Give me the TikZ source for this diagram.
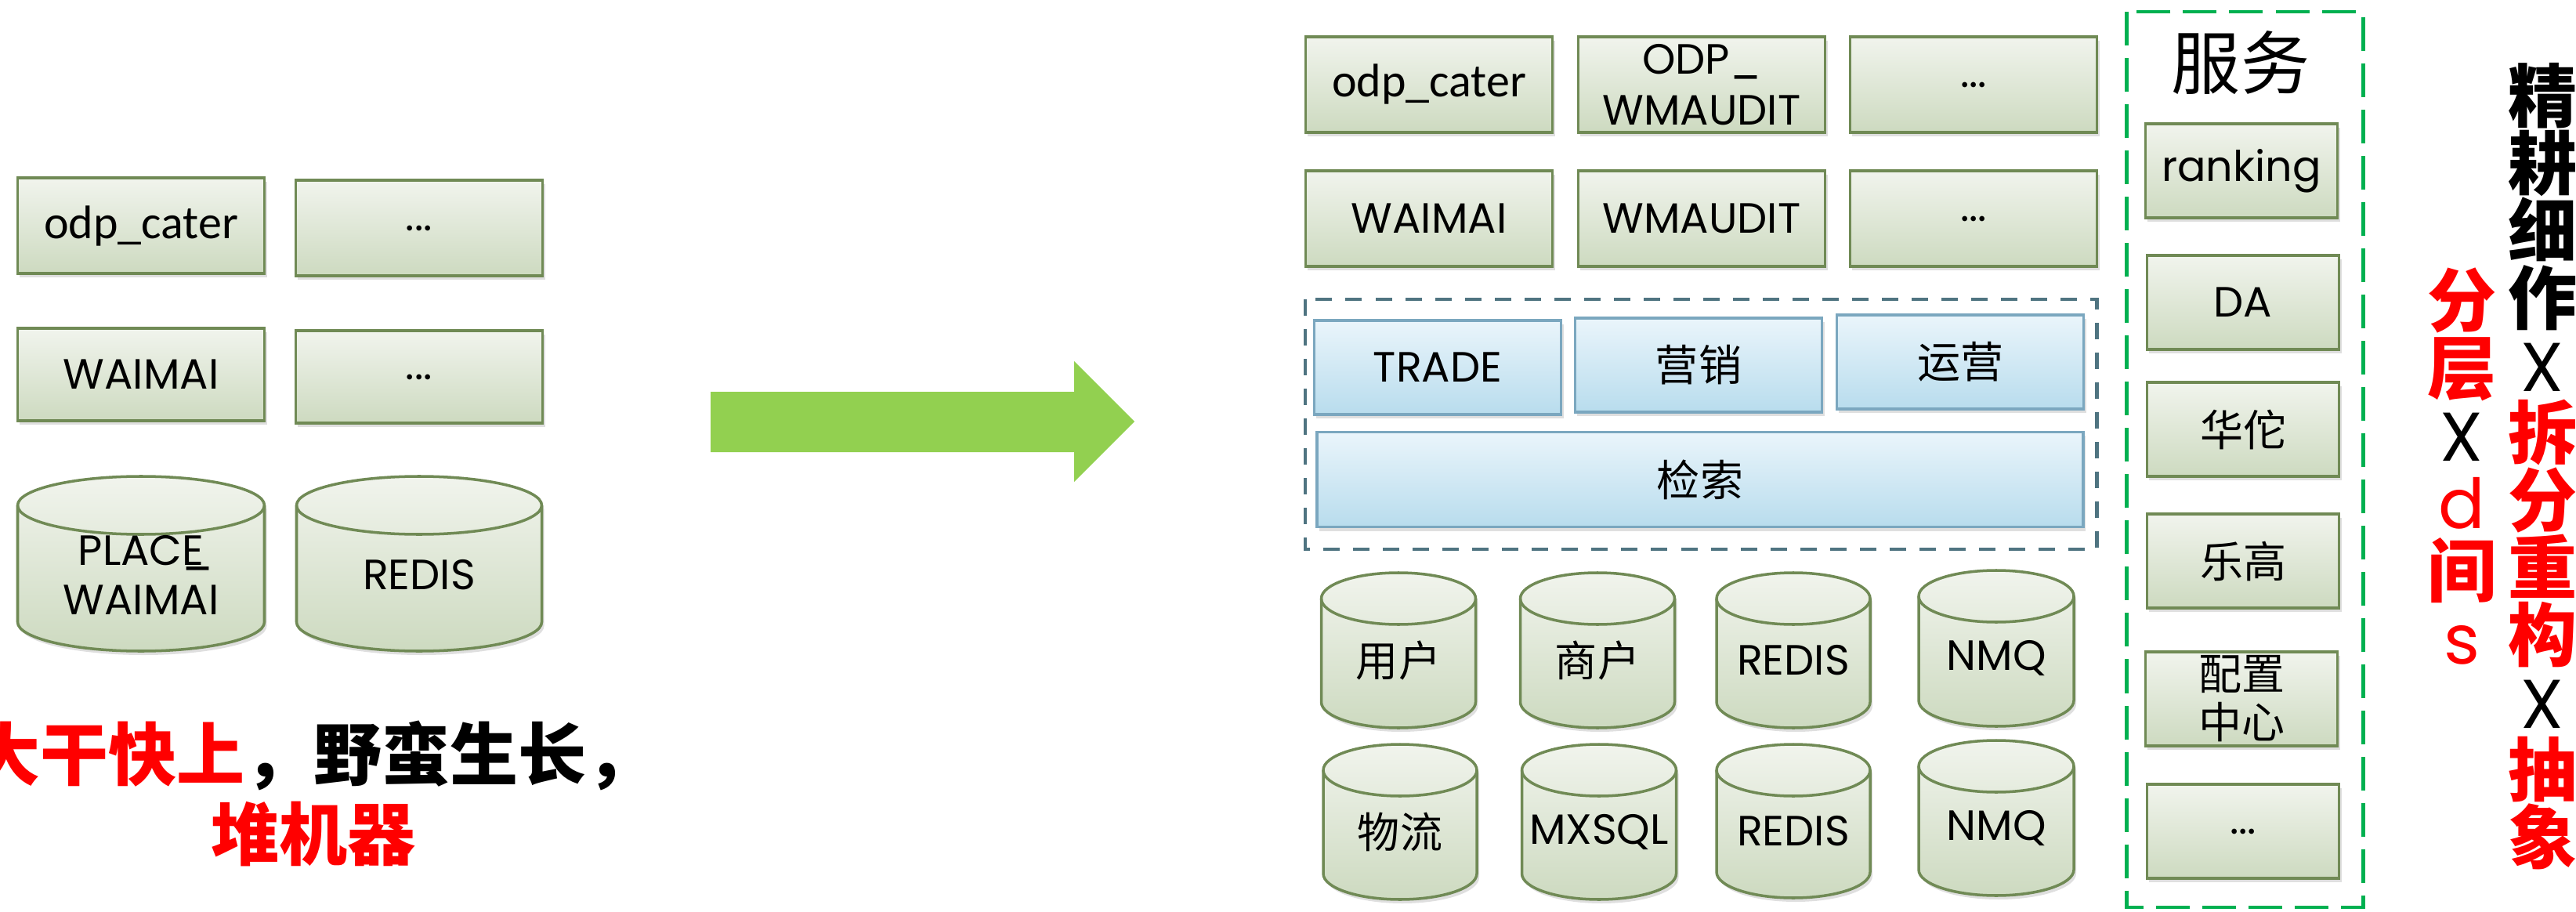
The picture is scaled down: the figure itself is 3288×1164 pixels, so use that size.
\documentclass[tikz,border=0pt]{standalone}
\usepackage{fontspec}
\setmainfont{Poppins}
\newfontfamily\cjk{Noto Sans CJK SC}
\newfontfamily\calib{Carlito}
\usetikzlibrary{shadows, positioning}

\definecolor{gtop}{RGB}{241,244,237}
\definecolor{gbot}{RGB}{205,218,192}
\definecolor{gline}{RGB}{112,138,85}
\definecolor{btop}{RGB}{234,245,251}
\definecolor{bbot}{RGB}{184,220,237}
\definecolor{bline}{RGB}{123,167,191}
\definecolor{slate}{RGB}{79,116,129}
\definecolor{svcgreen}{RGB}{0,176,80}
\definecolor{arrowgreen}{RGB}{146,208,80}

\newcommand{\hot}[1]{\textcolor{red}{#1}}
\newcommand{\crossx}{{\mdseries\rmfamily X}}

% database drum: name, centre x, top y, width, height, end radius, label
\newcommand{\dbase}[7]{%
  \pgfmathsetmacro{\dbhw}{#4/2}%
  \pgfmathsetmacro{\dbtop}{#3+#6}%
  \pgfmathsetmacro{\dbbot}{#3+#5-#6}%
  \pgfmathsetmacro{\dbmid}{#3+0.565*#5}%
  \path[db] (#2-\dbhw,\dbtop) -- (#2-\dbhw,\dbbot)
    arc[start angle=180, end angle=0, x radius=\dbhw, y radius=#6]
    -- (#2+\dbhw,\dbtop)
    arc[start angle=0, end angle=-180, x radius=\dbhw, y radius=#6] -- cycle;
  \draw[gline, line width=1pt] (#2-\dbhw,\dbtop)
    arc[start angle=180, end angle=0, x radius=\dbhw, y radius=#6];
  \node[dbtext] (#1) at (#2,\dbmid) {#7};
}

\tikzset{
  box/.style={rectangle, draw=gline, line width=1pt, top color=gtop, bottom color=gbot,
    minimum width=3.15cm, minimum height=1.22cm, inner sep=0pt, align=center,
    drop shadow={shadow xshift=0.03cm, shadow yshift=-0.05cm, opacity=0.25},
    font=\fontsize{0.54cm}{0.65cm}\selectfont},
  bluebox/.style={box, draw=bline, top color=btop, bottom color=bbot, minimum height=1.2cm},
  svcbox/.style={box, minimum width=2.45cm, minimum height=1.2cm},
  db/.style={draw=gline, line width=1pt, top color=gtop, bottom color=gbot,
    drop shadow={shadow xshift=0.03cm, shadow yshift=-0.05cm, opacity=0.25}},
  dbtext/.style={inner sep=0pt, align=center, font=\fontsize{0.54cm}{0.63cm}\selectfont},
  zh/.style={font=\cjk\fontsize{0.55cm}{0.62cm}\selectfont},
  odp/.style={font=\calib\fontsize{0.6cm}{0.7cm}\selectfont},
  bigzh/.style={font=\cjk\bfseries\fontsize{0.87cm}{1.02cm}\selectfont, align=center},
  vcol/.style={font=\cjk\bfseries\fontsize{0.88cm}{0.86cm}\selectfont, align=center, inner sep=0pt}
}

\begin{document}
\begin{tikzpicture}[x=0.01cm, y=-0.01cm]
  \useasboundingbox (0,0) rectangle (3288,1164);

  % before
  \node[box, odp] (odpL) at (180,288) {odp\_cater};
  \node[box] (moreL1) at (535,291) {...};
  \node[box, minimum height=1.18cm] (waimaiL) at (180,478) {WAIMAI};
  \node[box, minimum height=1.18cm] (moreL2) at (535,481) {...};
  \dbase{placeL}{180}{608}{315}{223}{37}{PLAC\rlap{\_}E\\WAIMAI}
  \dbase{redisL}{535}{608}{313}{223}{37}{REDIS}

  \node[bigzh] (slogan) at (400,1013) {\hot{大干快上}，野蛮生长，\\\hot{堆机器}};

  % arrow
  \fill[arrowgreen] (907,500) -- (1371,500) -- (1371,461) -- (1448,538)
    -- (1371,615) -- (1371,577) -- (907,577) -- cycle;

  % after
  \node[box, odp] (odpR) at (1824,108) {odp\_cater};
  \node[box] (odpAudit) at (2172,108) {ODP\_\\WMAUDIT};
  \node[box] (moreR1) at (2519,108) {...};
  \node[box] (waimaiR) at (1824,279) {WAIMAI};
  \node[box] (audit) at (2172,279) {WMAUDIT};
  \node[box] (moreR2) at (2519,279) {...};

  \draw[slate, line width=1.4pt, dash pattern=on 0.21cm off 0.17cm] (1666,382) rectangle (2676,701);
  \node[bluebox] (trade) at (1835,469) {TRADE};
  \node[bluebox, zh] (market) at (2168,466) {营销};
  \node[bluebox, zh] (ops) at (2502,462) {运营};
  \node[bluebox, zh, minimum width=9.77cm, minimum height=1.21cm] (search) at (2170,612) {检索};

  \dbase{user}{1785}{731}{197}{198}{33}{\cjk 用户}
  \dbase{shop}{2039}{731}{197}{198}{33}{\cjk 商户}
  \dbase{redisA}{2289}{731}{196}{198}{33}{REDIS}
  \dbase{nmqA}{2548}{728}{198}{199}{33}{NMQ}
  \dbase{logi}{1787}{950}{196}{198}{33}{\cjk 物流}
  \dbase{mxsql}{2041}{950}{197}{198}{33}{MXSQL}
  \dbase{redisB}{2289}{950}{196}{196}{33}{REDIS}
  \dbase{nmqB}{2548}{945}{198}{198}{33}{NMQ}

  % services
  \draw[svcgreen, line width=1.4pt, dash pattern=on 0.43cm off 0.16cm] (2714,15) rectangle (3016,1158);
  \node[font=\cjk\fontsize{0.88cm}{1cm}\selectfont] (svcTitle) at (2860,80) {服务};
  \node[svcbox] (ranking) at (2861,218) {ranking};
  \node[svcbox] (da) at (2863,386) {DA};
  \node[svcbox, zh] (huatuo) at (2863,548) {华佗};
  \node[svcbox, zh] (lego) at (2863,716) {乐高};
  \node[svcbox, zh] (config) at (2861,892) {配置\\中心};
  \node[svcbox] (moreSvc) at (2863,1061) {...};

  % mottos
  \node[vcol] (motto) at (3245,595) {精\\耕\\细\\作\\\crossx\\\hot{拆}\\\hot{分}\\\hot{重}\\\hot{构}\\\crossx\\\hot{抽}\\\hot{象}};
  \node[vcol] (layer) at (3142,595) {\hot{分}\\\hot{层}\\\crossx\\\hot{\mdseries\rmfamily d}\\\hot{间}\\\hot{\mdseries\rmfamily s}};
\end{tikzpicture}
\end{document}
